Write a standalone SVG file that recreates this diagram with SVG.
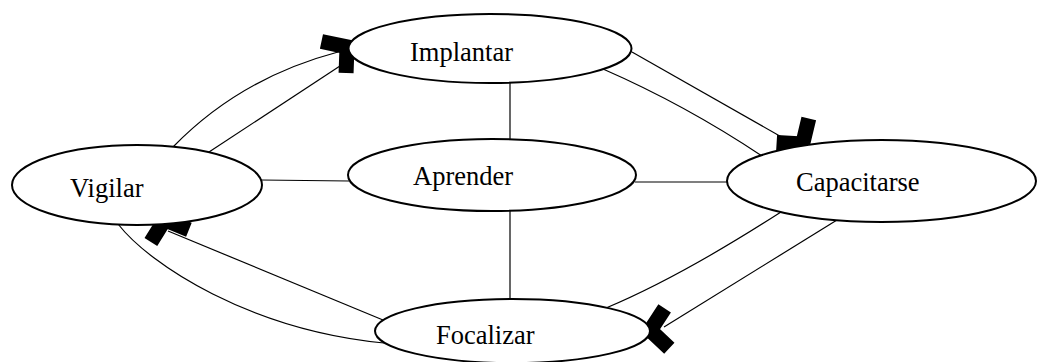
<svg xmlns="http://www.w3.org/2000/svg" width="1037" height="362" viewBox="0 0 1037 362">
<style>
.node{fill:#fff;stroke:#000;stroke-width:2}
.lbl{font-family:"Liberation Serif","Times New Roman",serif;font-size:26.5px;fill:#000}
.con{fill:none;stroke:#000;stroke-width:1.2}
</style>
<defs>
<path id="ah" d="M-16.8,-20 L0,0 L-16.8,20" fill="none" stroke="#000" stroke-width="15" stroke-linejoin="miter"/>
</defs>
<rect width="1037" height="362" fill="#fff"/>
<g id="connectors">
<line class="con" x1="510" y1="82" x2="510" y2="140"/>
<line class="con" x1="510" y1="210" x2="510" y2="300"/>
<line class="con" x1="261" y1="180" x2="349" y2="181"/>
<line class="con" x1="635" y1="182" x2="728" y2="182"/>
<path class="con" d="M173,147 Q240,78 338,52"/>
<line class="con" x1="209" y1="152" x2="343" y2="64"/>
<line class="con" x1="632" y1="52" x2="785" y2="139"/>
<path class="con" d="M603,69 Q685.5,105 762,156"/>
<path class="con" d="M781,212 Q680,277 606,308"/>
<line class="con" x1="837" y1="220" x2="664" y2="327"/>
<line class="con" x1="383" y1="320" x2="168" y2="231"/>
<path class="con" d="M118,224 C150,265 250,330 384,343"/>
<use href="#ah" transform="translate(347,46.9) rotate(-38)"/>
<use href="#ah" transform="translate(802.7,144) rotate(53.5)"/>
<use href="#ah" transform="translate(650.3,330.3) rotate(173.3)"/>
<use href="#ah" transform="translate(164.7,219.9) rotate(-108)"/>
</g>
<g id="implantar">
<ellipse class="node" cx="490" cy="48.5" rx="141.5" ry="34.5"/>
<text class="lbl" x="410" y="61">Implantar</text>
</g>
<g id="vigilar">
<ellipse class="node" cx="137" cy="185" rx="125" ry="40"/>
<text class="lbl" x="70" y="197">Vigilar</text>
</g>
<g id="aprender">
<ellipse class="node" cx="492" cy="175" rx="144" ry="36"/>
<text class="lbl" x="413" y="185">Aprender</text>
</g>
<g id="capacitarse">
<ellipse class="node" cx="881.5" cy="181" rx="154.5" ry="41"/>
<text class="lbl" x="796" y="191">Capacitarse</text>
</g>
<g id="focalizar">
<ellipse class="node" cx="512.5" cy="331" rx="137.5" ry="32"/>
<text class="lbl" x="436" y="344">Focalizar</text>
</g>
</svg>
